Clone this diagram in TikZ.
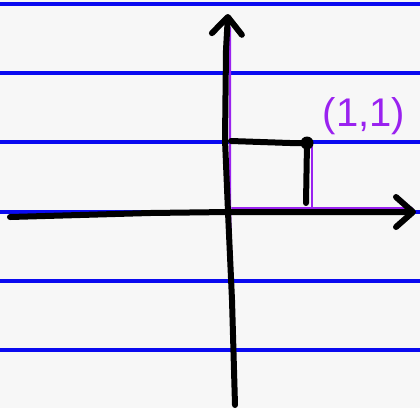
\documentclass[tikz,border=0pt]{standalone}
\usepackage{fontspec}
\setmainfont{Liberation Sans}
\usetikzlibrary{arrows.meta}
\definecolor{paper}{HTML}{F7F7F7}
\definecolor{rule}{HTML}{0A0AF0}
\definecolor{pen}{HTML}{9A22F0}
\tikzset{
  ruleline/.style={rule, line width=3.4pt},
  ink/.style={black, line width=6pt, line cap=round, line join=round},
  violet/.style={pen, line width=2.2pt, line cap=round},
  tip/.style={-{Straight Barb[length=17pt,width=30pt,round]}}
}
\begin{document}
\begin{tikzpicture}[x=1pt,y=-1pt]
\fill[paper] (0,0) rectangle (420,408);
\useasboundingbox (0,0) rectangle (420,408);
% ruled paper
\foreach \y in {4,73,142,212,281,350}
  \draw[ruleline] (0,\y) -- (420,\y);
\coordinate (o) at (228,212);
\coordinate (p) at (307,143);
\node[pen, font=\fontsize{40}{42}\selectfont] (lbl) at (364,116) {(1,1)};
% purple guide lines
\draw[violet] (230,28) -- (230,208) -- (232,297);
\draw[violet] (232,208) -- (412,208);
\draw[violet] (312,145) -- (312,207);
% axes
\draw[ink, tip] (10,217) -- (150,213) -- (o) -- (350,212) -- (416,212);
\draw[ink, tip] (235,405) -- (232,300) -- (o) -- (225,140) -- (226,50) -- (228,14);
% the point
\draw[ink] (231,141) -- (290,143) -- (p) -- (306,203);
\fill (p) circle (6.5pt);
\end{tikzpicture}
\end{document}
